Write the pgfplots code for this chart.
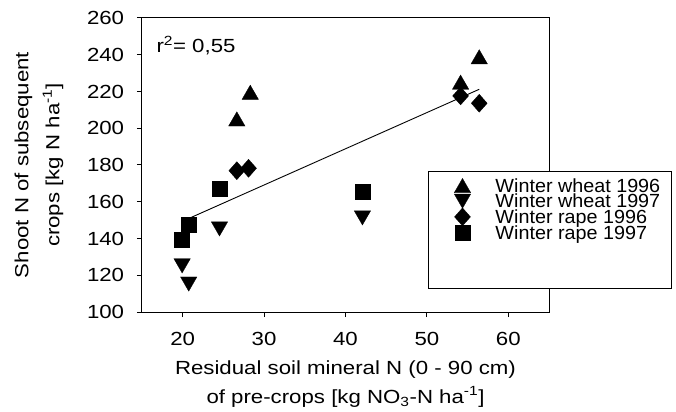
\documentclass[border=0pt]{standalone}
\usepackage{fontspec}
\setmainfont[FakeStretch=1.17]{Liberation Sans}
\newfontfamily\legfont[FakeStretch=1.04]{Liberation Sans}
\usepackage{pgfplots}
\pgfplotsset{compat=1.18}
\begin{document}
\fontsize{19bp}{22.8bp}\selectfont
\begin{tikzpicture}
\path[use as bounding box] (-142bp,-100bp) rectangle (534bp,312bp);
\begin{axis}[
  at={(0,0)}, anchor=south west,
  scale only axis, width=407bp, height=294bp,
  xmin=15, xmax=65, ymin=100, ymax=260,
  xtick={20,30,40,50,60}, ytick={100,120,...,260},
  tick pos=left, tick align=outside, major tick length=5bp,
  axis line style={line width=1bp},
  major tick style={line width=1bp, black},
  /pgf/number format/assume math mode=true,
  xticklabel style={anchor=north, inner sep=0pt, yshift=-15.5bp},
  yticklabel style={anchor=east, inner sep=0pt, xshift=-12.7bp},
  xlabel={Residual soil mineral N (0 - 90 cm)\\[5.5bp]of pre-crops [kg NO\textsubscript{3}-N ha\textsuperscript{-1}]},
  xlabel style={at={(axis description cs:0.5,-0.1667)}, anchor=north, inner sep=0pt, align=center},
  ylabel={Shoot N of subsequent\\[8.2bp]crops [kg N ha\textsuperscript{-1}]},
  ylabel style={at={(axis description cs:-0.1929,0.5)}, anchor=south, inner sep=0pt, align=center},
  clip=false,
  only marks,
  legend image code/.code={\path[draw=none,fill=none] (0bp,-5bp) rectangle (46bp,5bp);
    \draw[overlay,mark repeat=2,mark phase=2,#1] plot coordinates {(0bp,0bp)(23bp,0bp)(46bp,0bp)};},
  legend style={at={(axis description cs:0.7027,0.4796)}, anchor=north west,
    draw=black, line width=1bp, fill=white, inner xsep=11bp, inner ysep=6.2bp,
    column sep=10bp, row sep=0bp,
    font=\legfont\fontsize{19bp}{22.8bp}\selectfont,
    nodes={inner sep=0bp, text height=14.5bp, text depth=1.17bp},
    cells={anchor=west}},
]
\addplot[sharp plot, no marks, black, line width=0.9bp, forget plot] coordinates {(20.8,151.0) (56.43,221.2)};

\addplot[black, mark=triangle*, mark size=9.5bp, mark options={fill=black, draw=black, line width=0.3bp, yshift=-2.4bp}]
  coordinates {(28.3,219.6) (26.65,205.1) (56.43,238.9) (54.14,225.1)};
\addlegendentry{Winter wheat 1996}

\addplot[black, mark=triangle*, mark size=9.5bp, mark options={fill=black, draw=black, line width=0.3bp, yshift=2.4bp, rotate=180}]
  coordinates {(19.93,125.1) (20.74,115.2) (24.52,145.2) (42.08,151.2)};
\addlegendentry{Winter wheat 1997}

\addplot[black, mark=diamond*, mark size=9bp, mark options={fill=black, draw=black, line width=0.3bp, xscale=1.18}]
  coordinates {(26.65,176.9) (28.09,178.2) (54.14,217.6) (56.43,213.6)};
\addlegendentry{Winter rape 1996}

\addplot[black, mark=square*, mark size=7.5bp, mark options={fill=black, draw=black, line width=0.3bp}]
  coordinates {(24.52,166.9) (20.74,147.3) (19.93,139.2) (42.08,165.5)};
\addlegendentry{Winter rape 1997}

\addlegendimage{empty legend}
\addlegendentry[text height=0bp, text depth=41.6bp]{}

\node[anchor=base west, inner sep=0pt] at (axis cs:16.76,241.1) {r\textsuperscript{2}= 0,55};
\end{axis}
\end{tikzpicture}
\end{document}
